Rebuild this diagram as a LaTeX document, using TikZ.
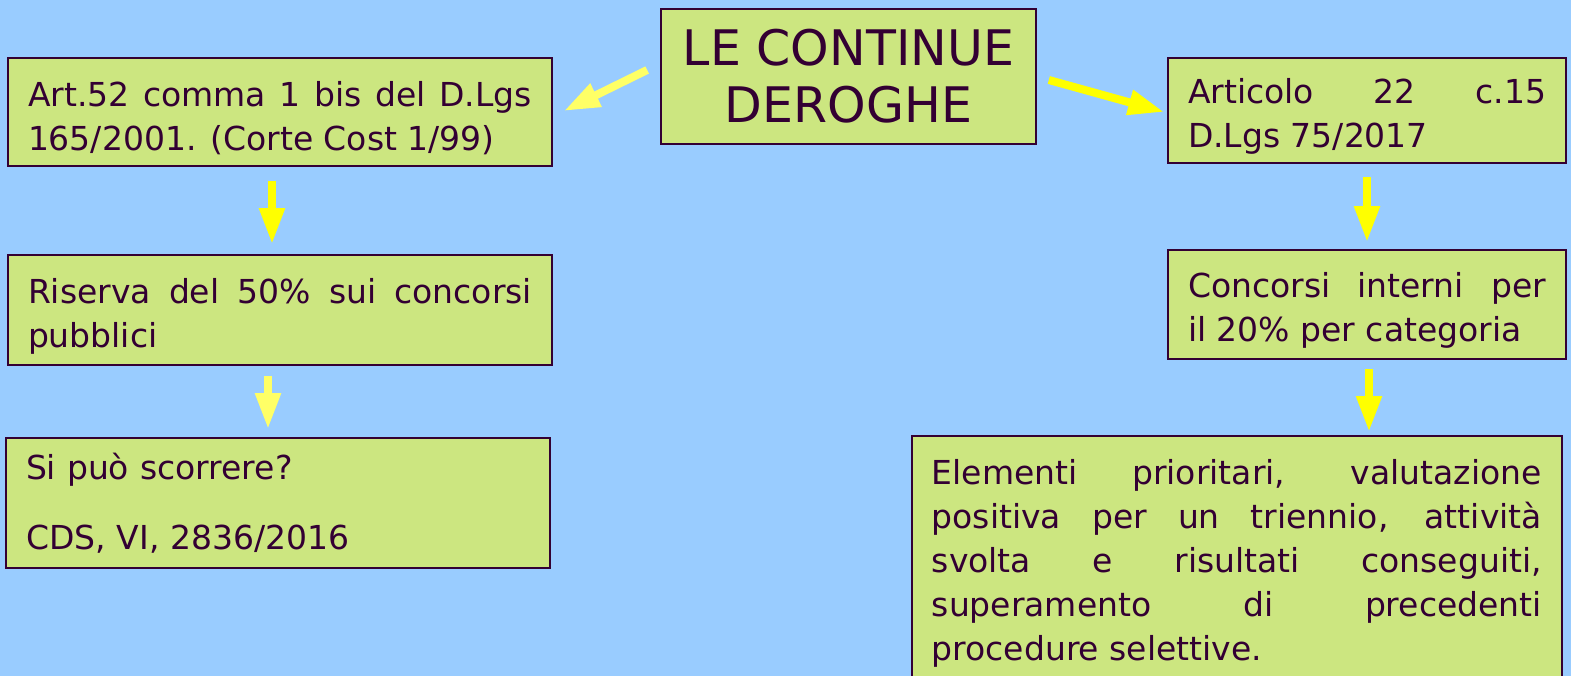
\documentclass[tikz,border=0pt]{standalone}
\usepackage{fontspec}
\setmainfont{DejaVu Sans}
\usetikzlibrary{arrows.meta}
\definecolor{bg}{RGB}{153,204,255}
\definecolor{boxfill}{RGB}{204,230,128}
\definecolor{boxline}{RGB}{51,0,51}
\definecolor{yel}{RGB}{255,255,0}
\definecolor{paleyel}{RGB}{255,255,102}
\tikzset{
  card/.style={draw=boxline, line width=1.6pt, fill=boxfill, text=boxline,
    inner xsep=20pt, inner ysep=0pt, align=justify,
    font=\fontsize{33}{44}\selectfont},
  lower/.style={execute at begin node={\rule{0pt}{37pt}}},
  arr/.style={-{Triangle[width=24pt,length=36pt]}, line width=8pt, draw=yel},
  palearr/.style={arr, draw=paleyel},
}
\begin{document}
\hyphenpenalty=10000 \exhyphenpenalty=10000
\begin{tikzpicture}[x=1pt,y=-1pt]
\useasboundingbox (0,0) rectangle (1571,676);
\fill[bg] (0,0) rectangle (1571,676);
\clip (0,0) rectangle (1571,676);

\node[card, align=center, minimum width=375pt, minimum height=135pt,
      font=\fontsize{49}{57}\selectfont] (title) at (848.5,76.5) {LE CONTINUE\\DEROGHE};

\node[card, lower, text width=504pt, minimum height=108pt] (l1) at (280,112)
  {Art.52 comma 1 bis del D.Lgs\linebreak 165/2001. (Corte Cost 1/99)};
\node[card, lower, text width=504pt, minimum height=110pt] (l2) at (280,310)
  {Riserva del 50\% sui concorsi\linebreak pubblici};
\node[card, align=left, text width=504pt, minimum height=130pt] (l3) at (278,503)
  {Si può scorrere?\\[26pt]CDS, VI, 2836/2016};

\node[card, lower, text width=358pt, minimum height=105pt] (r1) at (1367,110.5)
  {Articolo 22 c.15\linebreak D.Lgs 75/2017};
\node[card, lower, text width=358pt, minimum height=109pt] (r2) at (1367,304.5)
  {Concorsi interni per\linebreak il 20\% per categoria};
\node[card, text width=610pt, minimum height=256pt, anchor=north west] (r3) at (911,435)
  {Elementi prioritari, valutazione\linebreak positiva per un triennio, attività\linebreak svolta e risultati conseguiti,\linebreak superamento di precedenti\linebreak procedure selettive.};

\draw[palearr] ([xshift=-13pt,yshift=6.5pt]title.west) -- ([xshift=11pt,yshift=1pt]l1.east);
\draw[arr] ([xshift=12pt,yshift=-3.5pt]title.east) -- ([xshift=-3pt,yshift=-1.5pt]r1.west);

\draw[arr] ([xshift=-8pt,yshift=-14pt]l1.south) -- ([xshift=-8pt,yshift=10pt]l2.north);
\draw[palearr] ([xshift=-12pt,yshift=-10pt]l2.south) -- ([xshift=-10pt,yshift=8pt]l3.north);
\draw[arr] ([yshift=-13pt]r1.south) -- ([yshift=7pt]r2.north);
\draw[arr] ([xshift=2pt,yshift=-9pt]r2.south) -- ([xshift=2pt,yshift=3pt]r2.south |- r3.north);
\end{tikzpicture}
\end{document}
